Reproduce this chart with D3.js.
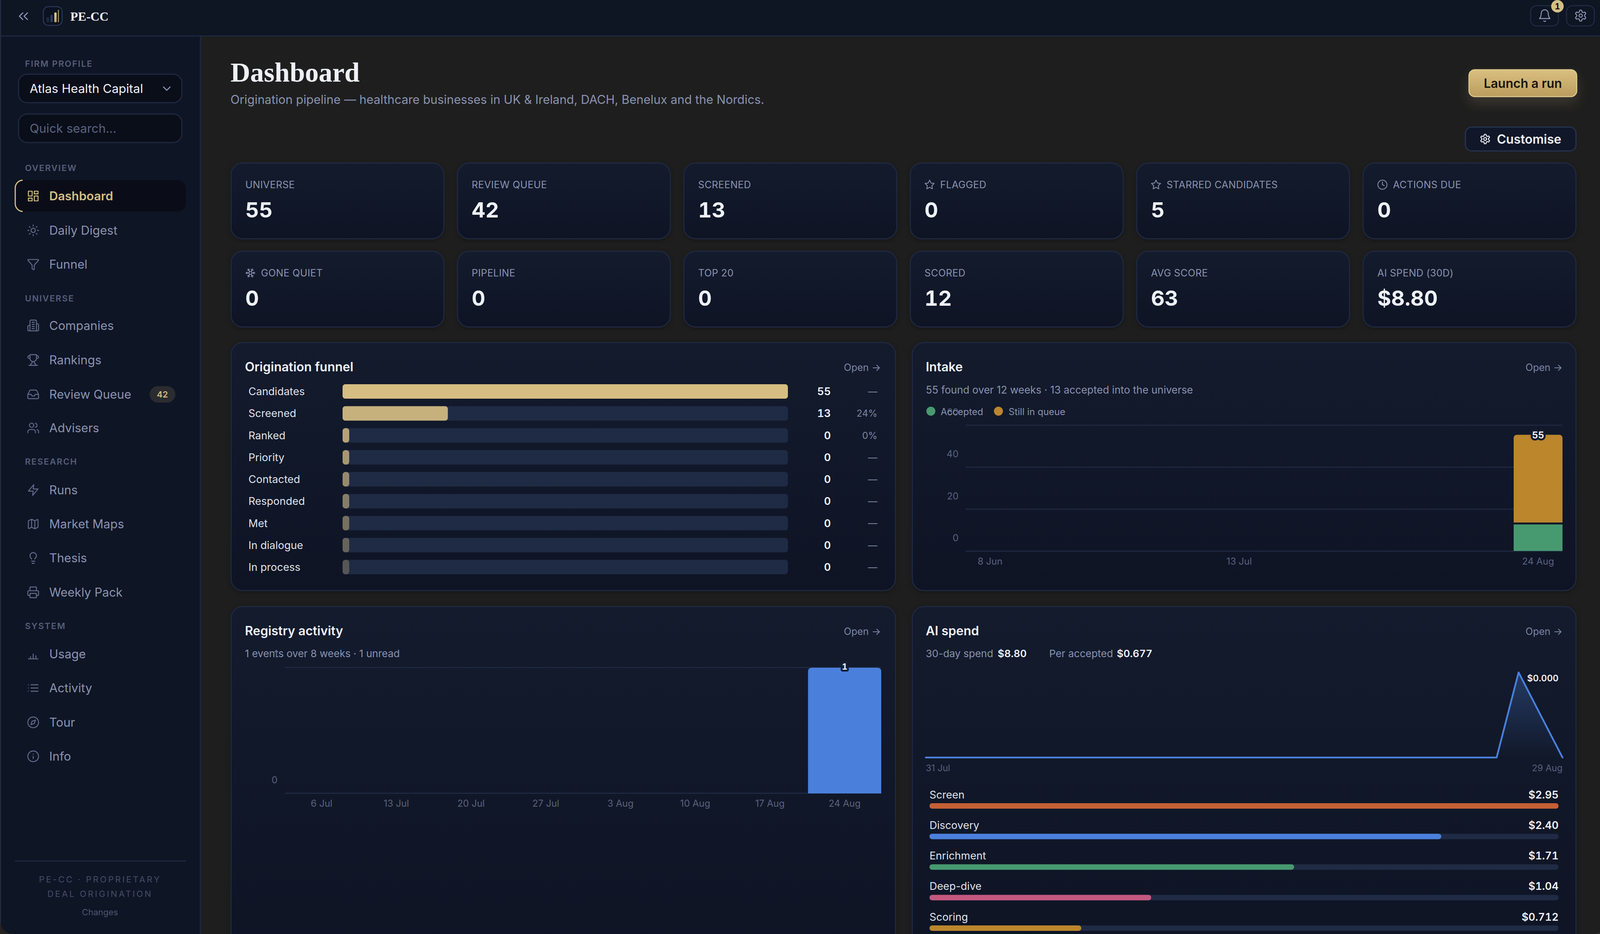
<!DOCTYPE html>
<html>
<head>
<meta charset="utf-8">
<title>PE-CC Dashboard</title>
<script src="https://cdn.jsdelivr.net/npm/d3@7"></script>
<style>
  html, body { margin: 0; padding: 0; background: #1e1e1e; }
  svg { display: block; }
  text { font-family: Inter, "Noto Sans", sans-serif; }
  .num { font-variant-numeric: tabular-nums; font-feature-settings: "tnum" 1; }
</style>
</head>
<body>
<svg id="chart" width="4112" height="2392"></svg>
<script>
// Stat tiles
const statLabels = ["UNIVERSE", "REVIEW QUEUE", "SCREENED", "FLAGGED", "STARRED CANDIDATES", "ACTIONS DUE",
                    "GONE QUIET", "PIPELINE", "TOP 20", "SCORED", "AVG SCORE", "AI SPEND (30D)"];
const statValues = ["55", "42", "13", "0", "5", "0", "0", "0", "0", "12", "63", "$8.80"];
const statIcons = [null, null, null, "star", "star", "clock", "snowflake", null, null, null, null, null];

// Origination funnel
const funnelStages = ["Candidates", "Screened", "Ranked", "Priority", "Contacted", "Responded", "Met", "In dialogue", "In process"];
const funnelValues = [55, 13, 0, 0, 0, 0, 0, 0, 0];
const funnelRates = ["—", "24%", "0%", "—", "—", "—", "—", "—", "—"];

// Intake
const intakeWeeks = ["8 Jun", "15 Jun", "22 Jun", "29 Jun", "6 Jul", "13 Jul", "20 Jul", "27 Jul", "3 Aug", "10 Aug", "17 Aug", "24 Aug"];
const intakeWeekTicks = ["8 Jun", "13 Jul", "24 Aug"];
const intakeAccepted = [0, 0, 0, 0, 0, 0, 0, 0, 0, 0, 0, 13];
const intakeQueue = [0, 0, 0, 0, 0, 0, 0, 0, 0, 0, 0, 42];
const intakeTicks = [0, 20, 40, 60];

// Registry activity
const registryWeeks = ["6 Jul", "13 Jul", "20 Jul", "27 Jul", "3 Aug", "10 Aug", "17 Aug", "24 Aug"];
const registryEvents = [0, 0, 0, 0, 0, 0, 0, 1];
const registryTicks = [0, 1];

// AI spend, one value a day from 31 Jul to 29 Aug
const spendDaily = [0, 0, 0, 0, 0, 0, 0, 0, 0, 0, 0, 0, 0, 0, 0, 0, 0, 0, 0, 0, 0, 0, 0, 0, 0, 0, 0, 5.87, 2.93, 0];
const spendStages = ["Screen", "Discovery", "Enrichment", "Deep-dive", "Scoring"];
const spendCosts = [2.95, 2.40, 1.71, 1.04, 0.712];
const spendCostLabels = ["$2.95", "$2.40", "$1.71", "$1.04", "$0.712"];
const spendColors = ["#c55f35", "#4a80dc", "#479a70", "#c4587f", "#bb862c"];

// Sidebar
const navSections = [
    { label: "OVERVIEW", y: 430 },
    { label: "UNIVERSE", y: 764 },
    { label: "RESEARCH", y: 1182 },
    { label: "SYSTEM", y: 1603 }
];
const navItems = [
    ["Dashboard", "dashboard", 502], ["Daily Digest", "sun", 590], ["Funnel", "funnel", 677],
    ["Companies", "building", 833.5], ["Rankings", "trophy", 922], ["Review Queue", "inbox", 1010], ["Advisers", "users", 1096],
    ["Runs", "zap", 1255], ["Market Maps", "map", 1342], ["Thesis", "bulb", 1429], ["Weekly Pack", "printer", 1517],
    ["Usage", "bars", 1675], ["Activity", "list", 1762], ["Tour", "compass", 1850], ["Info", "info", 1937]
];

const gold = "#d6be82", track = "#1f2a44", line = "#1e2840";
const white = "#eef1f8", muted = "#8a93b0", dim = "#5a6280";

// Lucide style outlines, 24 unit box
const settingsPath = "M12.22 2h-.44a2 2 0 0 0-2 2v.18a2 2 0 0 1-1 1.73l-.43.25a2 2 0 0 1-2 0l-.15-.08a2 2 0 0 0-2.73.73l-.22.38a2 2 0 0 0 .73 2.73l.15.1a2 2 0 0 1 1 1.72v.51a2 2 0 0 1-1 1.74l-.15.09a2 2 0 0 0-.73 2.73l.22.38a2 2 0 0 0 2.73.73l.15-.08a2 2 0 0 1 2 0l.43.25a2 2 0 0 1 1 1.73V20a2 2 0 0 0 2 2h.44a2 2 0 0 0 2-2v-.18a2 2 0 0 1 1-1.73l.43-.25a2 2 0 0 1 2 0l.15.08a2 2 0 0 0 2.73-.73l.22-.39a2 2 0 0 0-.73-2.73l-.15-.08a2 2 0 0 1-1-1.74v-.5a2 2 0 0 1 1-1.74l.15-.09a2 2 0 0 0 .73-2.73l-.22-.38a2 2 0 0 0-2.73-.73l-.15.08a2 2 0 0 1-2 0l-.43-.25a2 2 0 0 1-1-1.73V4a2 2 0 0 0-2-2zM9 12a3 3 0 1 0 6 0a3 3 0 1 0-6 0";
const icons = {
    chevronsLeft: "m11 17-5-5 5-5M18 17l-5-5 5-5",
    chevronDown: "m6 9 6 6 6-6",
    dashboard: "M3 3h7v9H3zM14 3h7v5h-7zM14 12h7v9h-7zM3 16h7v5H3z",
    sun: "M8 12a4 4 0 1 0 8 0a4 4 0 1 0-8 0M12 2v2M12 20v2M4.93 4.93l1.41 1.41M17.66 17.66l1.41 1.41M2 12h2M20 12h2M6.34 17.66l-1.41 1.41M19.07 4.93l-1.41 1.41",
    funnel: "M10 20a1 1 0 0 0 .553.895l2 1A1 1 0 0 0 14 21v-7a2 2 0 0 1 .517-1.341L21.74 4.67A1 1 0 0 0 21 3H3a1 1 0 0 0-.742 1.67l7.225 7.989A2 2 0 0 1 10 14z",
    building: "M6 22V4a2 2 0 0 1 2-2h8a2 2 0 0 1 2 2v18ZM6 12H4a2 2 0 0 0-2 2v6a2 2 0 0 0 2 2h2M18 9h2a2 2 0 0 1 2 2v9a2 2 0 0 1-2 2h-2M10 6h4M10 10h4M10 14h4M10 18h4",
    trophy: "M6 9H4.5a2.5 2.5 0 0 1 0-5H6M18 9h1.5a2.5 2.5 0 0 0 0-5H18M4 22h16M10 14.66V17c0 .55-.47.98-.97 1.21C7.85 18.75 7 20.24 7 22M14 14.66V17c0 .55.47.98.97 1.21C16.15 18.75 17 20.24 17 22M18 2H6v7a6 6 0 0 0 12 0V2Z",
    inbox: "M22 12h-6l-2 3h-4l-2-3H2M5.45 5.11 2 12v6a2 2 0 0 0 2 2h16a2 2 0 0 0 2-2v-6l-3.45-6.89A2 2 0 0 0 16.76 4H7.24a2 2 0 0 0-1.79 1.11z",
    users: "M16 21v-2a4 4 0 0 0-4-4H6a4 4 0 0 0-4 4v2M5 7a4 4 0 1 0 8 0a4 4 0 1 0-8 0M22 21v-2a4 4 0 0 0-3-3.87M16 3.13a4 4 0 0 1 0 7.75",
    zap: "M13 2 3 14h9l-1 8 10-12h-9l1-8z",
    map: "M14.106 5.553a2 2 0 0 0 1.788 0l3.659-1.83A1 1 0 0 1 21 4.619v12.764a1 1 0 0 1-.553.894l-4.553 2.277a2 2 0 0 1-1.788 0l-4.212-2.106a2 2 0 0 0-1.788 0l-3.659 1.83A1 1 0 0 1 3 19.381V6.618a1 1 0 0 1 .553-.894l4.553-2.277a2 2 0 0 1 1.788 0zM15 5.764v15M9 3.236v15",
    bulb: "M15 14c.2-1 .7-1.7 1.5-2.5 1-.9 1.5-2.2 1.5-3.5A6 6 0 0 0 6 8c0 1 .2 2.2 1.5 3.5.7.7 1.3 1.5 1.5 2.5M9 18h6M10 22h4",
    printer: "M6 18H4a2 2 0 0 1-2-2v-5a2 2 0 0 1 2-2h16a2 2 0 0 1 2 2v5a2 2 0 0 1-2 2h-2M6 9V3a1 1 0 0 1 1-1h10a1 1 0 0 1 1 1v6M7 14h10a1 1 0 0 1 1 1v6a1 1 0 0 1-1 1H7a1 1 0 0 1-1-1v-6a1 1 0 0 1 1-1z",
    bars: "M3 21h18M7 21v-4M12 21v-9M17 21v-6",
    list: "M3 12h.01M3 18h.01M3 6h.01M8 12h13M8 18h13M8 6h13",
    compass: "m16.24 7.76-2.12 6.36-6.36 2.12 2.12-6.36 6.36-2.12zM2 12a10 10 0 1 0 20 0a10 10 0 1 0-20 0",
    info: "M2 12a10 10 0 1 0 20 0a10 10 0 1 0-20 0M12 16v-4M12 8h.01",
    star: "M12 2l3.09 6.26L22 9.27l-5 4.87 1.18 6.88L12 17.77l-6.18 3.25L7 14.14 2 9.27l6.91-1.01L12 2z",
    clock: "M2 12a10 10 0 1 0 20 0a10 10 0 1 0-20 0M12 6v6l4 2",
    snowflake: "m10 20-1.25-2.5L6 18M10 4 8.75 6.5 6 6M14 20l1.25-2.5L18 18M14 4l1.25 2.5L18 6M17 21l-3-6h-4M17 3l-3 6 1.5 3M2 12h6.5L10 9M20 10l-1.5 2 1.5 2M22 12h-6.5L14 15M4 10l1.5 2L4 14M7 21l3-6-1.5-3M7 3l3 6h4",
    bell: "M6 8a6 6 0 0 1 12 0c0 7 3 9 3 9H3s3-2 3-9M10.3 21a1.94 1.94 0 0 0 3.4 0",
    settings: settingsPath
};

const svg = d3.select("#chart");
const defs = svg.append("defs");

// Soft vertical card fill
const cardGrad = defs.append("linearGradient").attr("id", "cardFill").attr("x2", 0).attr("y2", 1);
cardGrad.append("stop").attr("offset", 0).attr("stop-color", "#131b2d");
cardGrad.append("stop").attr("offset", 1).attr("stop-color", "#0e1424");
const launchGrad = defs.append("linearGradient").attr("id", "launchFill").attr("x2", 0).attr("y2", 1);
launchGrad.append("stop").attr("offset", 0).attr("stop-color", "#d9c080");
launchGrad.append("stop").attr("offset", 1).attr("stop-color", "#bb9d5e");
const logoGrad = defs.append("linearGradient").attr("id", "logoGold").attr("x2", 0).attr("y2", 1);
logoGrad.append("stop").attr("offset", 0).attr("stop-color", "#e2cb8c");
logoGrad.append("stop").attr("offset", 1).attr("stop-color", "#bfa566");
const areaGrad = defs.append("linearGradient").attr("id", "spendArea").attr("x2", 0).attr("y2", 1);
areaGrad.append("stop").attr("offset", 0).attr("stop-color", "#4a80dc").attr("stop-opacity", 0.32);
areaGrad.append("stop").attr("offset", 1).attr("stop-color", "#4a80dc").attr("stop-opacity", 0);
defs.append("filter").attr("id", "launchGlow").attr("x", "-20%").attr("y", "-30%").attr("width", "140%").attr("height", "190%")
    .attr("color-interpolation-filters", "sRGB")
    .append("feDropShadow").attr("dx", 0).attr("dy", 16).attr("stdDeviation", 16).attr("flood-color", gold).attr("flood-opacity", 0.16);
defs.append("filter").attr("id", "cardShadow").attr("x", "-5%").attr("y", "-5%").attr("width", "110%").attr("height", "110%")
    .attr("color-interpolation-filters", "sRGB")
    .append("feDropShadow").attr("dx", 0).attr("dy", 4).attr("stdDeviation", 6).attr("flood-color", "#000").attr("flood-opacity", 0.25);

// Text centred on y by its cap height
function label(parent, x, y, str, size, fill, weight, anchor, spacing, family) {
    const t = parent.append("text")
        .attr("x", x).attr("y", y).attr("dy", ".36em")
        .attr("font-size", size).attr("fill", fill)
        .attr("font-weight", weight || 400)
        .attr("text-anchor", anchor || "start")
        .text(str);
    if (spacing) t.attr("letter-spacing", spacing);
    if (family) t.style("font-family", family);
    return t;
}

function icon(parent, name, cx, cy, size, color, width) {
    const k = size / 24;
    parent.append("path")
        .attr("transform", "translate(" + (cx - size / 2) + "," + (cy - size / 2) + ") scale(" + k + ")")
        .attr("d", icons[name])
        .attr("fill", "none")
        .attr("stroke", color)
        .attr("stroke-width", width / k)
        .attr("stroke-linecap", "round")
        .attr("stroke-linejoin", "round");
}

function card(x, y, w, h) {
    svg.append("rect")
        .attr("x", x + 1.5).attr("y", y + 1.5).attr("width", w - 3).attr("height", h - 3)
        .attr("rx", 30).attr("fill", "url(#cardFill)")
        .attr("stroke", line).attr("stroke-width", 3)
        .attr("filter", "url(#cardShadow)");
}

function topRounded(x, y, w, h, r) {
    return "M" + x + "," + (y + h) + "V" + (y + r) + "Q" + x + "," + y + " " + (x + r) + "," + y +
        "H" + (x + w - r) + "Q" + (x + w) + "," + y + " " + (x + w) + "," + (y + r) + "V" + (y + h) + "Z";
}

// Page, header and sidebar
svg.append("rect").attr("width", 4112).attr("height", 2392).attr("fill", "#1e1e1e");
svg.append("rect").attr("x", 0).attr("y", 92).attr("width", 513).attr("height", 2300).attr("fill", "#0e1525");
svg.append("rect").attr("width", 4112).attr("height", 92).attr("fill", "#0e1523");
svg.append("line").attr("x1", 0).attr("x2", 4112).attr("y1", 92).attr("y2", 92).attr("stroke", line).attr("stroke-width", 3);
svg.append("line").attr("x1", 513).attr("x2", 513).attr("y1", 92).attr("y2", 2392).attr("stroke", line).attr("stroke-width", 3);

icon(svg, "chevronsLeft", 60, 41.5, 41, muted, 2.8);
svg.append("rect").attr("x", 111).attr("y", 17).attr("width", 48).attr("height", 48).attr("rx", 13)
    .attr("fill", "#0c1120").attr("stroke", "#26324f").attr("stroke-width", 3);
svg.append("rect").attr("x", 119).attr("y", 44).attr("width", 7).attr("height", 13).attr("rx", 2).attr("fill", "#1c2740");
svg.append("rect").attr("x", 129).attr("y", 38).attr("width", 6).attr("height", 19).attr("rx", 2).attr("fill", "#2a3a5c");
svg.append("rect").attr("x", 139).attr("y", 32).attr("width", 6).attr("height", 25).attr("rx", 2).attr("fill", "url(#logoGold)");
svg.append("rect").attr("x", 148).attr("y", 25).attr("width", 3).attr("height", 32).attr("rx", 1).attr("fill", "#8f8560");
label(svg, 180, 41, "PE-CC", 32, white, 700, "start", 0, "Liberation Serif");

label(svg, 64, 163, "FIRM PROFILE", 22, "#565e79", 600, "start", 2);
[[190, "Atlas Health Capital", white], [292, "Quick search…", "#5a6280"]].forEach(function(f) {
    svg.append("rect").attr("x", 47.5).attr("y", f[0]).attr("width", 418).attr("height", 73).attr("rx", 22)
        .attr("fill", "#0a0e19").attr("stroke", line).attr("stroke-width", 3);
    label(svg, 76, f[0] + 37, f[1], 31.4, f[2], 400);
});
icon(svg, "chevronDown", 427, 227, 34, muted, 2.6);

// Active nav row
svg.append("rect").attr("x", 38).attr("y", 461).attr("width", 438).attr("height", 81).attr("rx", 22).attr("fill", "#0a0d18");
svg.append("path").attr("d", "M58,461.5A20,20 0 0 0 39,481V522A20,20 0 0 0 58,541.5").attr("fill", "none").attr("stroke", gold).attr("stroke-width", 3);

navSections.forEach(function(s) {
    label(svg, 64, s.y, s.label, 22, "#565e79", 600, "start", 2);
});
navItems.forEach(function(n, i) {
    const active = i === 0;
    icon(svg, n[1], 85, n[2], 33, active ? gold : "#626b8a", 2.4);
    label(svg, 126, n[2], n[0], 31, active ? gold : muted, active ? 600 : 400);
});
svg.append("rect").attr("x", 383).attr("y", 989).attr("width", 66).attr("height", 42).attr("rx", 21).attr("fill", "#2b2c30");
label(svg, 416, 1010, "42", 22, gold, 600, "middle").classed("num", true);
svg.append("line").attr("x1", 38).attr("x2", 476).attr("y1", 2205).attr("y2", 2205).attr("stroke", line).attr("stroke-width", 3);
label(svg, 256, 2252, "PE-CC · PROPRIETARY", 22, "#454d68", 400, "middle", 4);
label(svg, 256, 2289, "DEAL ORIGINATION", 22, "#454d68", 400, "middle", 4);
label(svg, 256, 2336, "Changes", 22, "#4e5672", 400, "middle");

// Top right icons
[[3917, "bell", 36], [4009, "settings", 34]].forEach(function(b) {
    svg.append("rect").attr("x", b[0] + 1.5).attr("y", 14.5).attr("width", 71).attr("height", 52).attr("rx", 15)
        .attr("fill", "#0e1523").attr("stroke", line).attr("stroke-width", 3);
    icon(svg, b[1], b[0] + 37.5, 40, b[2], "#8f98b8", 2.4);
});
svg.append("circle").attr("cx", 3987).attr("cy", 16).attr("r", 16).attr("fill", gold);
label(svg, 3987, 16, "1", 21, "#0a0d18", 700, "middle").classed("num", true);

// Page heading
label(svg, 590, 184, "Dashboard", 70, "#eef1fa", 700, "start", 0, "Liberation Serif");
label(svg, 590, 255, "Origination pipeline — healthcare businesses in UK & Ireland, DACH, Benelux and the Nordics.", 30.8, muted, 400);

svg.append("rect").attr("x", 3760.5).attr("y", 178.5).attr("width", 276).attr("height", 69).attr("rx", 15)
    .attr("fill", "url(#launchFill)").attr("stroke", "#dfcc92").attr("stroke-width", 2.5).attr("filter", "url(#launchGlow)");
label(svg, 3898.5, 213, "Launch a run", 32, "#1a1408", 600, "middle");
svg.append("rect").attr("x", 3751.5).attr("y", 325.5).attr("width", 283).attr("height", 61).attr("rx", 16)
    .attr("fill", "#101729").attr("stroke", "#26324f").attr("stroke-width", 3);
icon(svg, "settings", 3802, 356, 29, white, 2.4);
label(svg, 3832, 356, "Customise", 32, white, 600);

// Stat tiles, two rows of six
const tileX = d3.scaleBand().domain(d3.range(6)).range([590, 4036]).paddingInner(0.0545);
statLabels.forEach(function(name, i) {
    const col = i % 6, row = i < 6 ? 0 : 1;
    const x = tileX(col), y = row === 0 ? 416 : 642;
    card(x, y, tileX.bandwidth(), 197);
    let tx = x + 38;
    if (statIcons[i]) {
        icon(svg, statIcons[i], tx + 13, y + 57, 28, muted, 2);
        tx += 40;
    }
    label(svg, tx, y + 57, name, 25, muted, 400, "start", 0.4);
    label(svg, x + 38, y + 122, statValues[i], 54, white, 700).classed("num", true);
});

// Origination funnel
card(590, 876, 1704, 638);
label(svg, 627, 939, "Origination funnel", 32, white, 600);
label(svg, 2255, 941, "Open →", 25, "#7d86a6", 400, "end");

const funnelY = d3.scaleBand().domain(funnelStages).range([964.9, 1489.9]).padding(0.34);
const funnelX = d3.scaleLinear().domain([0, d3.max(funnelValues)]).range([0, 1140]);
const funnelFade = d3.scaleLinear().domain([0, funnelStages.length - 1]).range([1, 0.3]);

const funnelRows = svg.append("g").selectAll("g").data(funnelStages).join("g");
funnelRows.append("rect")
    .attr("x", 877).attr("y", function(d) { return funnelY(d); })
    .attr("width", funnelX.range()[1]).attr("height", funnelY.bandwidth())
    .attr("rx", 7).attr("fill", track);
funnelRows.append("rect")
    .attr("x", 877).attr("y", function(d) { return funnelY(d); })
    .attr("width", function(d, i) { return Math.max(17, funnelX(funnelValues[i])); })
    .attr("height", funnelY.bandwidth())
    .attr("rx", 7).attr("fill", gold)
    .attr("fill-opacity", function(d, i) { return funnelFade(i); });
funnelRows.each(function(d, i) {
    const row = d3.select(this), cy = funnelY(d) + funnelY.bandwidth() / 2;
    label(row, 636, cy, d, 27, "#dfe3ee", 400);
    label(row, 2127, cy, funnelValues[i], 27, white, 600, "end").classed("num", true);
    label(row, 2246, cy, funnelRates[i], 24, "#7d86a6", 400, "end");
});

// Intake
card(2334, 876, 1702, 638);
label(svg, 2370, 939, "Intake", 32, white, 600);
label(svg, 4000, 941, "Open →", 25, "#7d86a6", 400, "end");
label(svg, 2370, 998, "55 found over 12 weeks · 13 accepted into the universe", 26.4, muted, 400);

const intakeX = d3.scaleBand().domain(intakeWeeks).range([2472, 4000]).paddingInner(0.02).paddingOuter(0);
const intakeY = d3.scaleLinear().domain([0, 60]).range([1411, 1088.5]);

function styleAxis(g) {
    g.select(".domain").remove();
    g.selectAll("line").attr("stroke", line).attr("stroke-width", 3);
    g.selectAll("text").attr("fill", dim).attr("font-size", 24).style("font-family", "Inter");
}

svg.append("g").attr("transform", "translate(2472,0)")
    .call(d3.axisLeft(intakeY).tickValues(intakeTicks).tickFormat(d3.format("d")).tickSize(-1528).tickPadding(18))
    .call(styleAxis)
    .selectAll("text").attr("y", -33);
svg.append("g").attr("transform", "translate(0,1411)")
    .call(d3.axisBottom(intakeX).tickValues(intakeWeekTicks).tickSize(0).tickPadding(18))
    .call(styleAxis);

// Legend sits over the top tick label, as in the app
[["Accepted", 2383, 2408, "#479a70"], ["Still in queue", 2556, 2582, "#bb862c"]].forEach(function(l) {
    svg.append("circle").attr("cx", l[1]).attr("cy", 1053).attr("r", 11.5).attr("fill", l[3]);
    label(svg, l[2], 1054, l[0], 24, muted, 400);
});

const intakeBars = svg.append("g").selectAll("g").data(intakeWeeks).join("g");
intakeBars.filter(function(d, i) { return intakeAccepted[i] > 0; }).append("rect")
    .attr("x", function(d) { return intakeX(d); })
    .attr("y", function(d, i) { return intakeY(intakeAccepted[intakeWeeks.indexOf(d)]) + 2; })
    .attr("width", intakeX.bandwidth())
    .attr("height", function(d) { return intakeY(0) - intakeY(intakeAccepted[intakeWeeks.indexOf(d)]) - 2; })
    .attr("fill", "#479a70");
intakeBars.filter(function(d, i) { return intakeQueue[i] > 0; }).append("path")
    .attr("d", function(d) {
        const i = intakeWeeks.indexOf(d);
        const top = intakeY(intakeAccepted[i] + intakeQueue[i]) - 2;
        return topRounded(intakeX(d), top, intakeX.bandwidth(), intakeY(intakeAccepted[i]) - 3 - top, 9);
    })
    .attr("fill", "#bb862c");
intakeBars.filter(function(d, i) { return intakeQueue[i] + intakeAccepted[i] > 0; }).each(function(d) {
    const i = intakeWeeks.indexOf(d);
    label(d3.select(this), intakeX(d) + intakeX.bandwidth() / 2, intakeY(intakeAccepted[i] + intakeQueue[i]) - 1, intakeAccepted[i] + intakeQueue[i], 24, white, 700, "middle")
        .classed("num", true)
        .attr("stroke", "#141a2a").attr("stroke-width", 10).attr("stroke-linejoin", "round").attr("paint-order", "stroke");
});

// Registry activity
card(590, 1552, 1704, 900);
label(svg, 627, 1615, "Registry activity", 32, white, 600);
label(svg, 2255, 1617, "Open →", 25, "#7d86a6", 400, "end");
label(svg, 627, 1674, "1 events over 8 weeks · 1 unread", 26, muted, 400);

const registryX = d3.scaleBand().domain(registryWeeks).range([729.5, 2256]).paddingInner(0.02).paddingOuter(0);
const registryY = d3.scaleLinear().domain([0, 1]).range([2031, 1709]);

svg.append("g").attr("transform", "translate(729.5,0)")
    .call(d3.axisLeft(registryY).tickValues(registryTicks).tickFormat(d3.format("d")).tickSize(-1526.5).tickPadding(19))
    .call(styleAxis)
    .selectAll("text").attr("y", -33);
svg.append("g").attr("transform", "translate(0,2031)")
    .call(d3.axisBottom(registryX).tickSize(0).tickPadding(18))
    .call(styleAxis);

svg.append("g").selectAll("path").data(registryWeeks.filter(function(d, i) { return registryEvents[i] > 0; })).join("path")
    .attr("d", function(d) {
        const top = registryY(registryEvents[registryWeeks.indexOf(d)]) + 1;
        return topRounded(registryX(d), top, registryX.bandwidth(), registryY(0) - top + 1, 10);
    })
    .attr("fill", "#4a80dc");
registryWeeks.forEach(function(d, i) {
    if (registryEvents[i] > 0) {
        label(svg, registryX(d) + registryX.bandwidth() / 2, registryY(registryEvents[i]) - 2, registryEvents[i], 22, white, 700, "middle")
            .classed("num", true)
            .attr("stroke", "#14203a").attr("stroke-width", 10).attr("stroke-linejoin", "round").attr("paint-order", "stroke");
    }
});

// AI spend
card(2334, 1552, 1702, 900);
label(svg, 2370, 1615, "AI spend", 32, white, 600);
label(svg, 4000, 1617, "Open →", 25, "#7d86a6", 400, "end");
label(svg, 2370, 1674, "30-day spend", 26, muted, 400);
label(svg, 2554, 1674, "$8.80", 26, white, 600).classed("num", true);
label(svg, 2686, 1674, "Per accepted", 26, muted, 400);
label(svg, 2859, 1674, "$0.677", 26, white, 600).classed("num", true);

const spendX = d3.scaleLinear().domain([0, spendDaily.length - 1]).range([2370, 4000]);
const spendY = d3.scaleLinear().domain([0, d3.max(spendDaily)]).range([1940, 1722]);
svg.append("path").datum(spendDaily)
    .attr("d", d3.area().x(function(d, i) { return spendX(i); }).y0(spendY(0)).y1(function(d) { return spendY(d); }))
    .attr("fill", "url(#spendArea)");
svg.append("path").datum(spendDaily)
    .attr("d", d3.line().x(function(d, i) { return spendX(i); }).y(function(d) { return spendY(d); }))
    .attr("fill", "none").attr("stroke", "#4a80dc").attr("stroke-width", 4.5).attr("stroke-linejoin", "round").attr("stroke-linecap", "round");
label(svg, 3990, 1737, "$0.000", 23, white, 600, "end")
    .classed("num", true)
    .attr("stroke", "#121829").attr("stroke-width", 12).attr("stroke-linejoin", "round").attr("paint-order", "stroke");
label(svg, 2370, 1967, "31 Jul", 23, dim, 400);
label(svg, 4000, 1967, "29 Aug", 23, dim, 400, "end");

const costX = d3.scaleLinear().domain([0, d3.max(spendCosts)]).range([0, 1610.6]);
const costY = d3.scalePoint().domain(spendStages).range([2057, 2370]);
spendStages.forEach(function(name, i) {
    const y = costY(name);
    label(svg, 2379.4, y - 22, name, 27, "#dfe3ee", 400);
    label(svg, 3990, y - 22, spendCostLabels[i], 27, white, 600, "end").classed("num", true);
    svg.append("rect").attr("x", 2379.4).attr("y", y).attr("width", costX.range()[1]).attr("height", 14).attr("rx", 7).attr("fill", track);
    svg.append("rect").attr("x", 2379.4).attr("y", y).attr("width", costX(spendCosts[i])).attr("height", 14).attr("rx", 7).attr("fill", spendColors[i]);
});

// Window edge and rounded bottom corners
svg.append("rect").attr("x", 0).attr("y", 0).attr("width", 2.5).attr("height", 2392).attr("fill", "#262d40");
svg.append("rect").attr("x", 4109.5).attr("y", 0).attr("width", 2.5).attr("height", 2392).attr("fill", "#3a3a3a");
svg.append("path").attr("d", "M0,2358V2392H34A34,34 0 0 1 0,2358Z").attr("fill", "#242321");
svg.append("path").attr("d", "M4112,2358V2392H4078A34,34 0 0 0 4112,2358Z").attr("fill", "#2b2b2a");
</script>
</body>
</html>
